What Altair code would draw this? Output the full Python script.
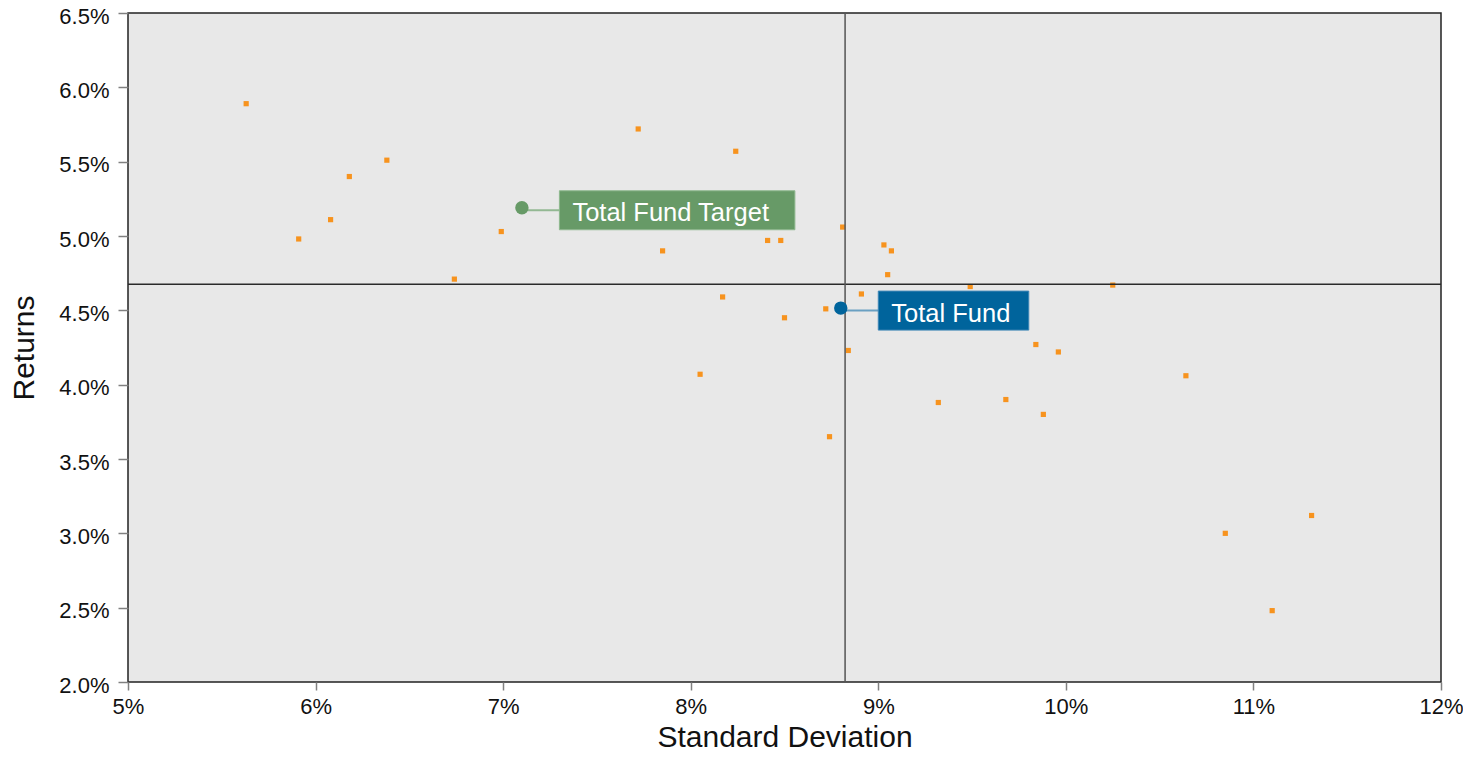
import altair as alt
import pandas as pd

# Peer universe: standard deviation (%) and returns (%)
peer_sd = [5.63, 5.91, 6.08, 6.18, 6.38, 6.74, 6.99, 7.72, 7.85, 8.05, 8.17, 8.24,
           8.41, 8.48, 8.50, 8.72, 8.74, 8.81, 8.84, 8.91, 9.03, 9.07, 9.05, 9.32,
           9.49, 9.68, 9.84, 9.96, 9.88, 10.25, 10.64, 10.85, 11.31, 11.10]
peer_ret = [5.89, 4.98, 5.11, 5.40, 5.51, 4.71, 5.03, 5.72, 4.90, 4.07, 4.59, 5.57,
            4.97, 4.97, 4.45, 4.51, 3.65, 5.06, 4.23, 4.61, 4.94, 4.90, 4.74, 3.88,
            4.66, 3.90, 4.27, 4.22, 3.80, 4.67, 4.06, 3.00, 3.12, 2.48]

label_names = ["Total Fund Target", "Total Fund"]
label_sd = [7.10, 8.80]
label_ret = [5.19, 4.515]

median_sd = [8.823]
median_ret = [4.675]

x_ticks = [5, 6, 7, 8, 9, 10, 11, 12]
y_ticks = [2.0, 2.5, 3.0, 3.5, 4.0, 4.5, 5.0, 5.5, 6.0, 6.5]

FONT = "Liberation Sans"

peers = pd.DataFrame({"sd": peer_sd, "ret": peer_ret})
labels = pd.DataFrame({"name": label_names, "sd": label_sd, "ret": label_ret})

x_enc = alt.X("sd:Q", title="Standard Deviation",
              scale=alt.Scale(domain=[5, 12], nice=False, zero=False),
              axis=alt.Axis(values=x_ticks, labelExpr="format(datum.value, '.0f') + '%'",
                            labelFlush=False, titlePadding=5, labelPadding=6, tickSize=8))
y_enc = alt.Y("ret:Q", title="Returns",
              scale=alt.Scale(domain=[2.0, 6.5], nice=False, zero=False),
              axis=alt.Axis(values=y_ticks, labelExpr="format(datum.value, '.1f') + '%'",
                            labelFlush=False, labelOffset=3, titlePadding=19,
                            labelPadding=9, tickSize=10))

points = alt.Chart(peers).mark_square(size=27, color="#f7931e", opacity=1).encode(x=x_enc, y=y_enc)

hline = alt.Chart(pd.DataFrame({"ret": median_ret})).mark_rule(
    color="#2a2a2a", strokeWidth=1.5).encode(y="ret:Q")
vline = alt.Chart(pd.DataFrame({"sd": median_sd})).mark_rule(
    color="#555555", strokeWidth=1.5).encode(x="sd:Q")

styles = {
    "Total Fund Target": dict(fill="#679a67", edge="#8fb88f", line="#93b893", box_w=273),
    "Total Fund": dict(fill="#00649c", edge="#3f86b6", line="#6aa0c2", box_w=188),
}

layers = [points, hline, vline]
for name in label_names:
    st = styles[name]
    d = alt.Chart(labels).transform_filter(alt.datum.name == name)
    conn = d.mark_rule(color=st["line"], strokeWidth=2, x2Offset=38, yOffset=2.5, y2Offset=2.5).encode(
        x="sd:Q", x2="sd:Q", y="ret:Q")
    box = d.mark_rect(color=st["fill"], stroke=st["edge"], strokeWidth=1, opacity=1,
                      xOffset=37.5, x2Offset=st["box_w"], yOffset=-17, y2Offset=22).encode(
        x="sd:Q", x2="sd:Q", y="ret:Q", y2="ret:Q")
    txt = d.mark_text(align="left", baseline="alphabetic", dx=50.5, dy=13.5,
                      font=FONT, fontSize=25.5, color="white").encode(
        x="sd:Q", y="ret:Q", text="name:N")
    dot = d.mark_circle(size=180, color=st["fill"], opacity=1).encode(x="sd:Q", y="ret:Q")
    layers += [conn, dot, box, txt]

chart = alt.layer(*layers).properties(
    width=1313, height=669,
    autosize=alt.AutoSizeParams(type="none"),
    padding={"left": 120, "top": 5, "right": 22, "bottom": 69},
).configure_view(
    fill="#e8e8e8", stroke="#222222", strokeWidth=1.5
).configure_axis(
    labelFont=FONT, labelFontSize=22, labelColor="#111111",
    titleFont=FONT, titleFontSize=30, titleFontWeight="normal", titleColor="#111111",
    grid=False, domain=False, tickColor="#808080", tickWidth=1.5
)

chart.save("out.html", embed_options={"renderer": "svg", "actions": False})
